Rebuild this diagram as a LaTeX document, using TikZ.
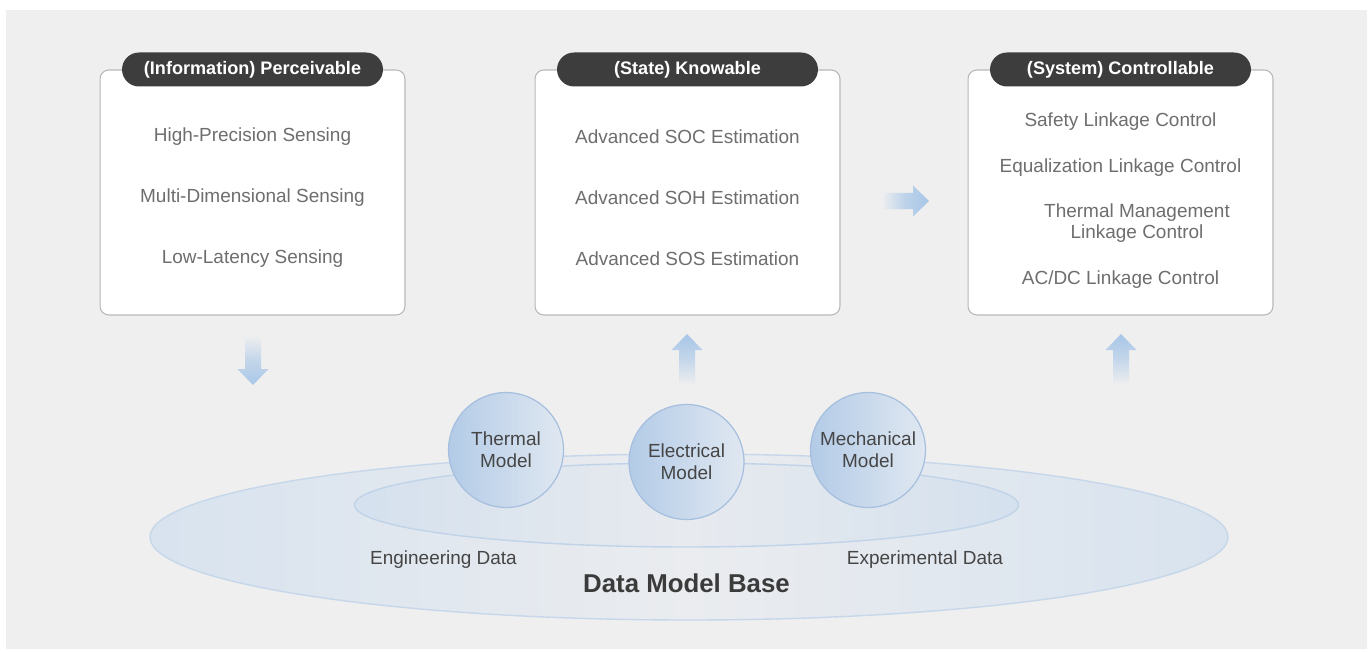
\documentclass[tikz,border=0pt]{standalone}
\usepackage{fontspec}
\setmainfont{Liberation Sans}
\usetikzlibrary{positioning}

\definecolor{bggray}{HTML}{EFEFEF}
\definecolor{boxline}{HTML}{B8B8B8}
\definecolor{pilldark}{HTML}{3D3D3D}
\definecolor{itemgray}{HTML}{6E6E6E}
\definecolor{labelgray}{HTML}{454545}
\definecolor{arrowblue}{HTML}{A7C6E7}
\definecolor{circleft}{HTML}{B3CBE7}
\definecolor{circright}{HTML}{E0E8F1}
\definecolor{circline}{HTML}{A6BFDF}
\definecolor{ellline}{HTML}{C6D7EA}
\definecolor{ellside}{HTML}{D8E3EF}
\definecolor{ellmid}{HTML}{EAECEF}

\tikzset{
	panel/.style={draw=boxline, line width=0.6pt, fill=white, rounded corners=5pt,
		minimum width=6.1cm, minimum height=4.9cm},
	pill/.style={fill=pilldark, text=white, rounded corners=0.34cm, inner sep=0pt,
		minimum width=5.22cm, minimum height=0.68cm, font=\bfseries\fontsize{10.3}{12}\selectfont},
	item/.style={text=itemgray, align=center, font=\fontsize{10.8}{12}\selectfont},
	model/.style={circle, draw=circline, line width=0.7pt, minimum size=2.3cm, inner sep=0pt,
		left color=circleft, right color=circright, text=labelgray, align=center,
		font=\fontsize{10.8}{12.5}\selectfont},
	datalabel/.style={text=labelgray, font=\fontsize{10.8}{12}\selectfont}
}

\begin{document}
\begin{tikzpicture}[x=0.02cm,y=-0.02cm]
		\useasboundingbox (0,0) rectangle (1370,652);
		\fill[bggray] (6,10) rectangle (1367,649);

		% base ellipses
		\shadedraw[draw=ellline, line width=0.8pt, left color=ellside, right color=ellside, middle color=ellmid]
			(689,537) ellipse [x radius=539, y radius=83];
		\shadedraw[draw=ellline!85!circline, line width=0.8pt,
			left color=ellside!90!circleft, right color=ellside!90!circleft, middle color=ellmid!95!circleft]
			(686.5,505) ellipse [x radius=332, y radius=42];

		% models
		\node[model] (thermal) at (506,450) {Thermal\\Model};
		\node[model] (electrical) at (686.5,462) {Electrical\\Model};
		\node[model] (mechanical) at (868,450) {Mechanical\\Model};

		\node[datalabel] (engdata) at (443.5,560) {Engineering Data};
		\node[datalabel] (expdata) at (925,560) {Experimental Data};
		\node[text=labelgray!85!black, font=\bfseries\fontsize{14.7}{16}\selectfont] (base) at (686.5,583) {Data Model Base};

		% panels
		\node[panel] (perc) at (252.5,192.5) {};
		\node[panel] (know) at (687.5,192.5) {};
		\node[panel] (ctrl) at (1120.5,192.5) {};
		\node[pill] (percT) at (perc.north) {(Information) Perceivable};
		\node[pill] (knowT) at (know.north) {(State) Knowable};
		\node[pill] (ctrlT) at (ctrl.north) {(System) Controllable};

		\foreach \t [count=\i] in {High-Precision Sensing,Multi-Dimensional Sensing,Low-Latency Sensing}
			\node[item] (perc\i) at (252.5,76+61*\i) {\t};
		\foreach \t [count=\i] in {Advanced SOC Estimation,Advanced SOH Estimation,Advanced SOS Estimation}
			\node[item] (know\i) at (687.5,76+61*\i) {\t};
		\node[item] (ctrl1) at (1120.5,122) {Safety Linkage Control};
		\node[item] (ctrl2) at (1120.5,168) {Equalization Linkage Control};
		\node[item] (ctrl3) at (1137,223.5) {Thermal Management\\Linkage Control};
		\node[item] (ctrl4) at (1120.5,280) {AC/DC Linkage Control};

		% block arrows
		\shade[top color=bggray, bottom color=arrowblue, middle color=arrowblue!60!bggray]
			(245,335) -- (261,335) -- (261,369) -- (268.5,369) -- (253,385) -- (237.5,369) -- (245,369) -- cycle;
		\foreach \x in {687,1121}
			\shade[bottom color=bggray, top color=arrowblue, middle color=arrowblue!60!bggray]
				(\x-8,385) -- (\x-8,350) -- (\x-15.5,350) -- (\x,334) -- (\x+15.5,350) -- (\x+8,350) -- (\x+8,385) -- cycle;
		\shade[left color=bggray, right color=arrowblue, middle color=arrowblue!70!bggray]
			(881,193) -- (913,193) -- (913,185.5) -- (929,201) -- (913,216.5) -- (913,209) -- (881,209) -- cycle;
\end{tikzpicture}
\end{document}
